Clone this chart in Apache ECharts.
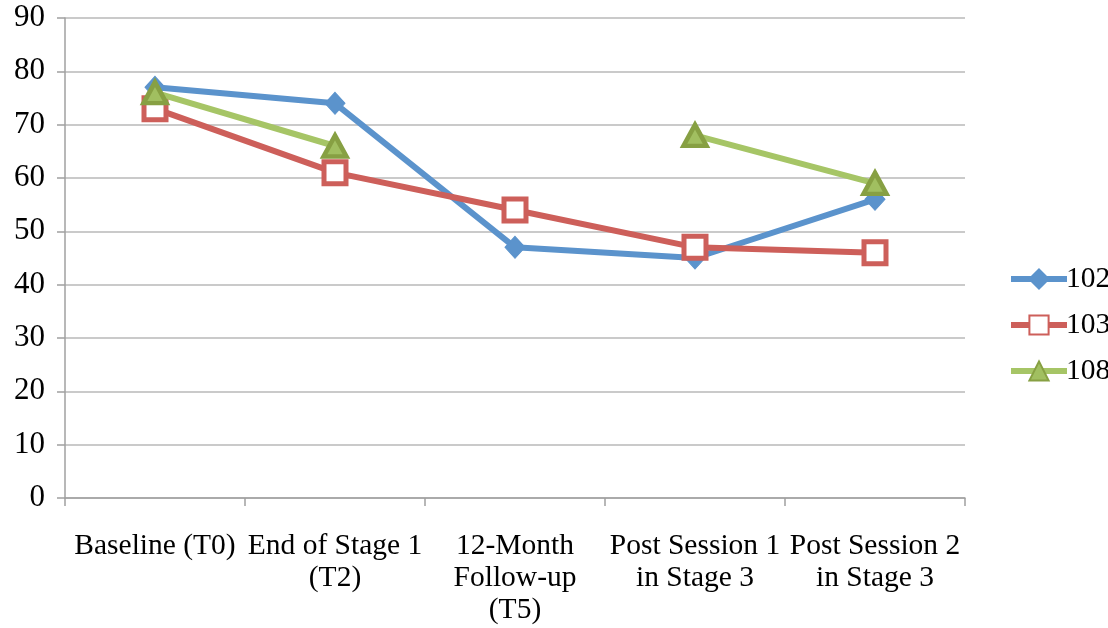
<!DOCTYPE html>
<html>
<head>
<meta charset="utf-8">
<script src="https://cdn.jsdelivr.net/npm/echarts@6/dist/echarts.min.js"></script>
<style>
  html, body { margin: 0; padding: 0; background: #fff; }
  #chart { width: 1108px; height: 628px; }
</style>
</head>
<body>
<div id="chart"></div>
<script>
// Time points along the x axis
const categories = [
  'Baseline (T0)',
  'End of Stage 1\n(T2)',
  '12-Month\nFollow-up\n(T5)',
  'Post Session 1\nin Stage 3',
  'Post Session 2\nin Stage 3'
];

// Scores per participant (null = no measurement)
const s102 = [77, 74, 47, 45, 56];
const s103 = [73, 61, 54, 47, 46];
const s108 = [76, 66, null, 68, 59];

const FONT = '"Liberation Serif", "Times New Roman", serif';
const FS = 29.5;

const BLUE = '#5B93CC';
const RED = '#CD5F5A';
const GREEN = '#A6C566';
const GREEN_DARK = '#87A043';

const chart = echarts.init(document.getElementById('chart'), null, { renderer: 'canvas' });

chart.setOption({
  backgroundColor: '#ffffff',
  animation: false,
  grid: { left: 65, right: 143, top: 18, bottom: 130, containLabel: false },
  legend: {
    orient: 'vertical',
    left: 1003,
    top: 259,
    itemWidth: 56,
    itemHeight: 24,
    itemGap: 16,
    textStyle: { fontFamily: FONT, fontSize: FS, color: '#000', padding: [0, 0, 0, -6] },
    data: [
      { name: '102', lineStyle: { width: 6, color: BLUE } },
      { name: '103', lineStyle: { width: 6, color: RED } },
      { name: '108', lineStyle: { width: 6, color: GREEN } }
    ]
  },
  xAxis: {
    type: 'category',
    data: categories,
    boundaryGap: true,
    axisLine: { lineStyle: { color: '#a0a0a0', width: 1.5 } },
    axisTick: { show: true, length: 8, interval: 0, lineStyle: { color: '#a0a0a0', width: 1.5 } },
    axisLabel: {
      interval: 0,
      margin: 32,
      fontFamily: FONT,
      fontSize: FS,
      color: '#000',
      lineHeight: 32
    },
    splitLine: { show: false }
  },
  yAxis: {
    type: 'value',
    min: 0,
    max: 90,
    interval: 10,
    axisLine: { show: true, lineStyle: { color: '#a0a0a0', width: 1.5 } },
    axisTick: { show: true, length: 8, lineStyle: { color: '#a0a0a0', width: 1.5 } },
    axisLabel: { fontFamily: FONT, fontSize: 31, color: '#000', margin: 20 },
    splitLine: { show: true, lineStyle: { color: '#b8b8b8', width: 1.5 } }
  },
  series: [
    {
      name: '102',
      type: 'line',
      data: s102,
      symbol: 'diamond',
      symbolSize: [20, 22],
      lineStyle: { color: BLUE, width: 6 },
      itemStyle: { color: BLUE, borderColor: BLUE, borderWidth: 1 },
      z: 3
    },
    {
      name: '103',
      type: 'line',
      data: s103,
      symbol: 'rect',
      symbolSize: 22,
      lineStyle: { color: RED, width: 6 },
      itemStyle: { color: '#ffffff', borderColor: RED, borderWidth: 5 },
      z: 4
    },
    {
      name: '108',
      type: 'line',
      data: s108,
      connectNulls: false,
      symbol: 'triangle',
      symbolSize: [23, 21],
      lineStyle: { color: GREEN, width: 6 },
      itemStyle: { color: '#A1BF60', borderColor: GREEN_DARK, borderWidth: 4.5 },
      z: 5
    }
  ]
});
</script>
</body>
</html>
